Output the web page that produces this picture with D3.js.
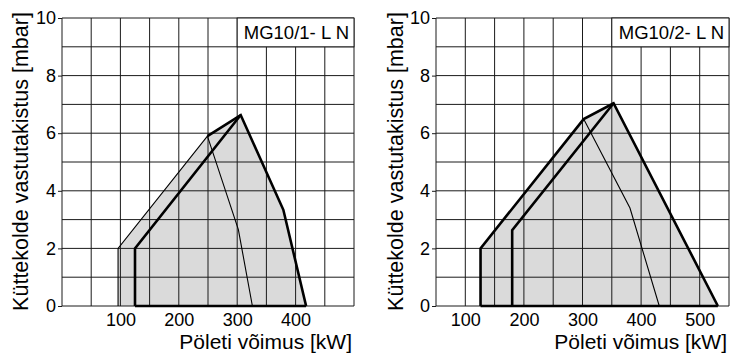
<!DOCTYPE html>
<html>
<head>
<meta charset="utf-8">
<script src="https://cdn.jsdelivr.net/npm/d3@7"></script>
<style>
  body { margin: 0; background: #fff; }
  svg { font-family: "Liberation Sans", Arial, sans-serif; }
</style>
</head>
<body>
<div id="chart"></div>
<script>
// tick labels / grid
var yTicks = [0, 2, 4, 6, 8, 10];
var xTicks1 = [100, 200, 300, 400];
var xTicks2 = [100, 200, 300, 400, 500];

// MG10/1-LN working field [kW, mbar]
var area1 = [[96, 0], [96, 2], [249, 5.9], [306, 6.63], [379, 3.34], [418, 0]];
var thick1 = [
  [[125, 0], [125, 2], [306, 6.63]],
  [[249, 5.9], [306, 6.63], [379, 3.34], [418, 0]],
  [[125, 0], [418, 0]]
];
var thin1 = [
  [[96, 0], [96, 2], [249, 5.9]],
  [[249, 5.9], [302, 2.65], [326, 0]]
];

// MG10/2-LN working field [kW, mbar]
var area2 = [[126, 0], [126, 2], [302, 6.49], [353, 7.04], [531, 0]];
var thick2 = [
  [[126, 0], [126, 2], [302, 6.49], [353, 7.04], [531, 0]],
  [[180, 0], [180, 2.63], [353, 7.04]],
  [[126, 0], [531, 0]]
];
var thin2 = [
  [[302, 6.49], [381, 3.4], [431, 0]]
];

var W = 731, H = 356;

var svg = d3.select("#chart")
  .append("svg")
  .attr("width", W)
  .attr("height", H);

draw({left: 62, right: 354, xMin: 0, xMax: 500, xTicks: xTicks1, boxFrom: 300,
      title: "MG10/1- L N", area: area1, thick: thick1, thin: thin1, yTitleX: 20});
draw({left: 436, right: 729, xMin: 50, xMax: 550, xTicks: xTicks2, boxFrom: 350,
      title: "MG10/2- L N", area: area2, thick: thick2, thin: thin2, yTitleX: 395});

function draw(c) {
  var top = 18, bottom = 306;

  var x = d3.scaleLinear().domain([c.xMin, c.xMax]).range([c.left, c.right]);
  var y = d3.scaleLinear().domain([0, 10]).range([bottom, top]);

  var g = svg.append("g");

  // fill
  var line = d3.line().x(d => x(d[0])).y(d => y(d[1]));
  g.append("path")
    .attr("d", line([...c.area, c.area[0]]))
    .attr("fill", "#dadada")
    .attr("stroke", "none");

  // grid
  var gx = d3.range(c.xMin, c.xMax + 1, 50);
  var gy = d3.range(0, 11, 1);
  g.selectAll(".vg").data(gx).enter().append("line")
    .attr("x1", d => x(d)).attr("x2", d => x(d))
    .attr("y1", top).attr("y2", bottom)
    .attr("stroke", "#1a1a1a").attr("stroke-width", 1);
  g.selectAll(".hg").data(gy).enter().append("line")
    .attr("x1", c.left).attr("x2", c.right)
    .attr("y1", d => y(d)).attr("y2", d => y(d))
    .attr("stroke", "#1a1a1a").attr("stroke-width", 1);

  // model box
  g.append("rect")
    .attr("x", x(c.boxFrom)).attr("y", top)
    .attr("width", c.right - x(c.boxFrom))
    .attr("height", y(9) - top)
    .attr("fill", "#fff")
    .attr("stroke", "#1a1a1a");
  g.append("text")
    .attr("x", c.right - 5)
    .attr("y", y(9.5))
    .attr("dy", "0.35em")
    .attr("text-anchor", "end")
    .style("font-size", "18.5px")
    .text(c.title);

  // thin & thick outlines
  g.selectAll(".thin").data(c.thin).enter().append("path")
    .attr("d", line)
    .attr("fill", "none")
    .attr("stroke", "#000")
    .attr("stroke-width", 1.1);
  g.selectAll(".thick").data(c.thick).enter().append("path")
    .attr("d", line)
    .attr("fill", "none")
    .attr("stroke", "#000")
    .attr("stroke-width", 2.6)
    .attr("stroke-linejoin", "miter");

  // axes
  var yAxis = g.append("g")
    .attr("transform", `translate(${c.left},0)`)
    .call(d3.axisLeft(y).tickValues(yTicks).tickSize(4).tickPadding(2).tickSizeOuter(0));
  yAxis.select(".domain").remove();
  yAxis.selectAll("line").attr("stroke", "#1a1a1a");
  yAxis.selectAll("text").style("font-size", "18px").attr("fill", "#000");

  var xAxis = g.append("g")
    .attr("transform", `translate(0,${bottom})`)
    .call(d3.axisBottom(x).tickValues(c.xTicks).tickSize(0).tickPadding(7));
  xAxis.select(".domain").remove();
  xAxis.selectAll("text").style("font-size", "18px").attr("fill", "#000");

  // titles
  g.append("text")
    .attr("x", c.right - 2)
    .attr("y", 349)
    .attr("text-anchor", "end")
    .style("font-size", "21px")
    .text("Pöleti võimus [kW]");

  g.append("text")
    .attr("transform", `translate(${c.yTitleX},${(12 + 311) / 2}) rotate(-90)`)
    .attr("text-anchor", "middle")
    .attr("dy", "0.35em")
    .style("font-size", "21.5px")
    .text("Küttekolde vastutakistus [mbar]");
}
</script>
</body>
</html>
